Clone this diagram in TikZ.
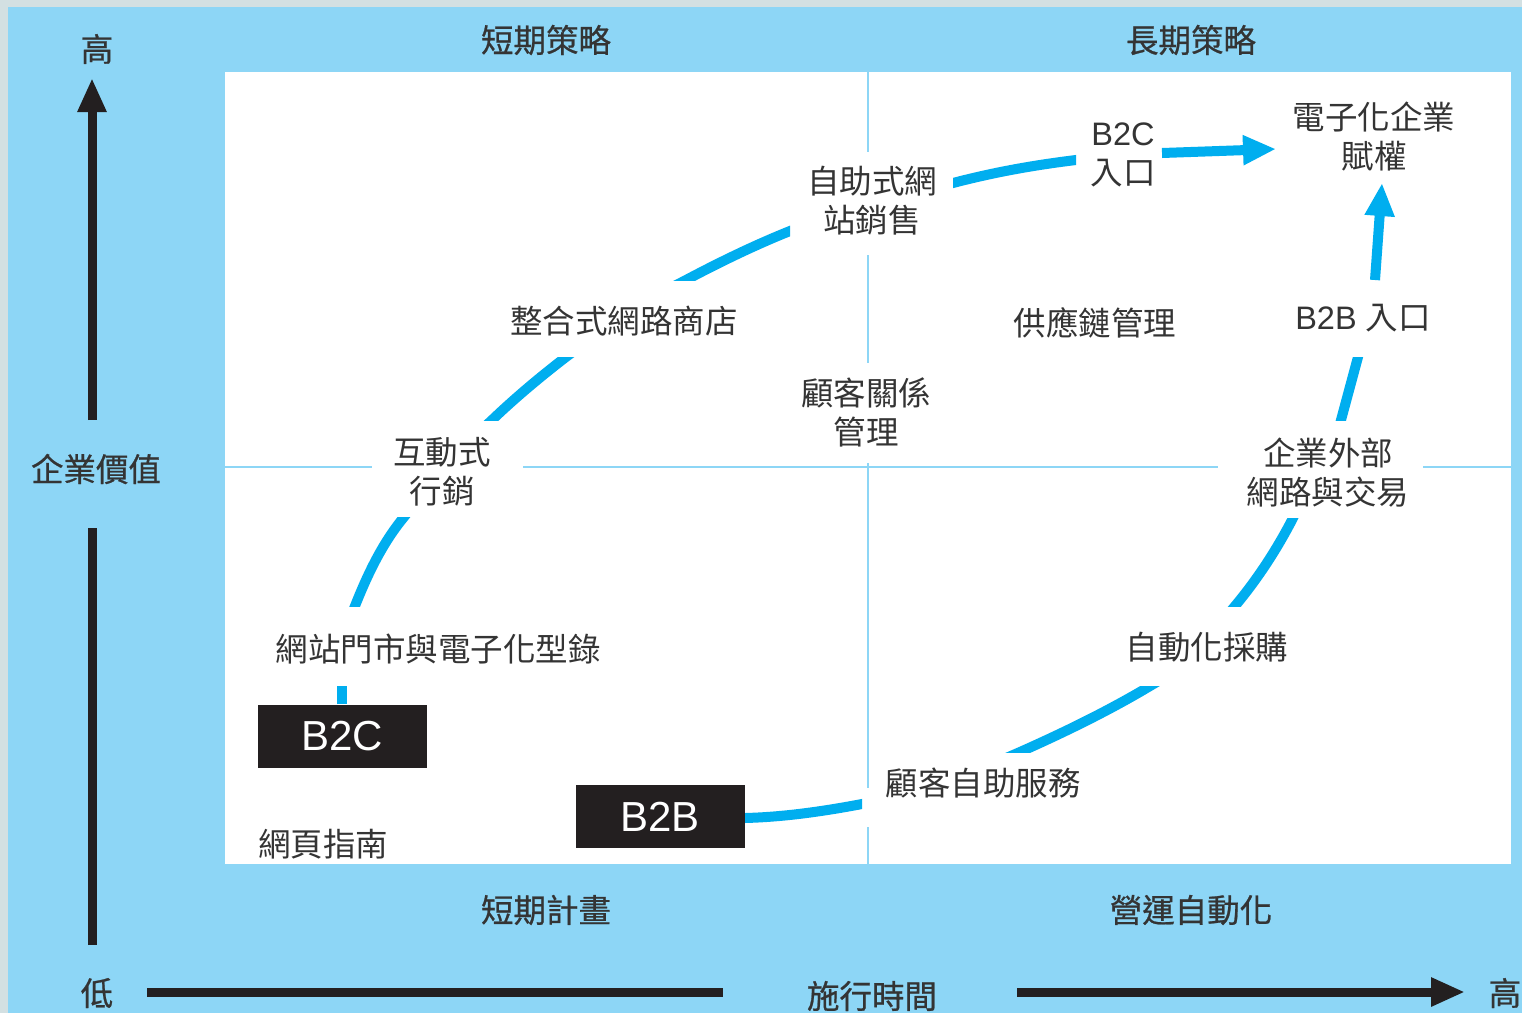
\documentclass[tikz,border=0pt]{standalone}
\usepackage{fontspec}
\setmainfont{Noto Sans CJK TC}
\newfontfamily\lat{Liberation Sans}
\newfontfamily\outerfont[FakeBold=0.7]{Noto Sans CJK TC}
\usetikzlibrary{arrows.meta}
\definecolor{bgblue}{RGB}{141,214,246}
\definecolor{frame}{RGB}{211,224,226}
\definecolor{cyanB}{RGB}{0,174,239}
\definecolor{txt}{RGB}{52,52,52}
\definecolor{axisk}{RGB}{35,31,32}
\tikzset{
  lbl/.style={font=\fontsize{32.5}{39}\selectfont, text=txt, inner sep=0pt, align=center},
  outerlbl/.style={font=\outerfont\fontsize{32.5}{39}\selectfont, text=txt, inner sep=0pt, align=center},
  blackbox/.style={fill=axisk, text=white, font=\lat\fontsize{42}{48}\selectfont, minimum width=169pt, minimum height=63pt, inner sep=0pt},
  axisline/.style={line width=9pt, draw=axisk},
  axisarrow/.style={axisline, -{Triangle[length=34pt,width=27pt]}},
  gridline/.style={line width=2.6pt, draw=bgblue},
  flow/.style={line width=10pt, draw=cyanB},
  flowarrow/.style={flow, -{Triangle[length=33pt,width=28pt]}}
}
\begin{document}
\begin{tikzpicture}[x=1pt,y=-1pt]
\useasboundingbox (0,0) rectangle (1522,1013);
% backgrounds
\fill[frame] (0,0) rectangle (1522,1013);
\fill[bgblue] (8,7) rectangle (1522,1013);
\fill[white] (225,72) rectangle (1511,864);
% grid lines
\draw[gridline] (868,60) -- (868,152);
\draw[gridline] (868,255) -- (868,363);
\draw[gridline] (868,463) -- (868,788);
\draw[gridline] (868,827) -- (868,875);
\draw[gridline] (215,467) -- (372,467);
\draw[gridline] (523,467) -- (1218,467);
\draw[gridline] (1423,467) -- (1522,467);
% outer labels
\node[outerlbl] (highv) at (97,49) {高};
\node[outerlbl] (ss) at (546,40) {短期策略};
\node[outerlbl] (ls) at (1191,40) {長期策略};
\node[outerlbl] (val) at (96,469) {企業價值};
\node[outerlbl] (low) at (97,993) {低};
\node[outerlbl] (time) at (872,996) {施行時間};
\node[outerlbl] (highh) at (1505,993) {高};
\node[outerlbl] (sp) at (546,910) {短期計畫};
\node[outerlbl] (oa) at (1191,910) {營運自動化};
% axes
\coordinate (va) at (92,945);
\coordinate (vb) at (92,528);
\coordinate (vc) at (92,420);
\coordinate (vd) at (92,78);
\coordinate (ha) at (147,992);
\coordinate (hb) at (723,992);
\coordinate (hc) at (1017,992);
\coordinate (hd) at (1465,992);
\draw[axisline] (va) -- (vb);
\draw[axisarrow] (vc) -- (vd);
\draw[axisline] (ha) -- (hb);
\draw[axisarrow] (hc) -- (hd);
% inner labels
\node[lbl] (emp) at (1374,137) {電子化企業\\賦權};
\node[lbl] (b2cent) at (1123,155) {{\lat B2C}\\入口};
\node[lbl] (sws) at (872,201) {自助式網\\站銷售};
\node[lbl] (ies) at (624,321) {整合式網路商店};
\node[lbl] (scm) at (1095,323) {供應鏈管理};
\node[lbl] (b2bent) at (1363,318) {{\lat B2B }入口};
\node[lbl] (crm) at (866,412) {顧客關係\\管理};
\node[lbl] (im) at (442,472) {互動式\\行銷};
\node[lbl] (ext) at (1328,473) {企業外部\\網路與交易};
\node[lbl] (store) at (438,649) {網站門市與電子化型錄};
\node[lbl] (guide) at (323,844) {網頁指南};
\node[lbl] (auto) at (1207,647) {自動化採購};
\node[lbl] (css) at (983,783) {顧客自助服務};
\node[blackbox] (b2c) at (342,736) {B2C};
\node[blackbox] (b2b) at (660,816.5) {B2B};
% B2C flow
\coordinate (l1) at (342,686);
\coordinate (l2a) at (355,606);
\coordinate (l2b) at (404,517);
\coordinate (l3a) at (492,420);
\coordinate (l3b) at (566,357);
\coordinate (l4a) at (686,280);
\coordinate (l4b) at (790,231);
\coordinate (l5a) at (953,183);
\coordinate (l5b) at (1076,160);
\coordinate (l6a) at (1162,153);
\coordinate (l6b) at (1276,149);
\draw[flow] (b2c.north) -- (l1);
\begin{scope}
  \clip (300,517) rectangle (460,606);
  \draw[flow] (349,621) -- (l2a) .. controls (370,568) and (385,540) .. (l2b) -- (416,502);
\end{scope}
\begin{scope}
  \clip (440,357) rectangle (620,420);
  \draw[flow] (478,433) -- (l3a) .. controls (515,398) and (540,377) .. (l3b) -- (582,345);
\end{scope}
\begin{scope}
  \clip (600,200) rectangle (790,280);
  \draw[flow] (659,294) -- (l4a) .. controls (720,262) and (755,245) .. (l4b) -- (805,225);
\end{scope}
\begin{scope}
  \clip (953,140) rectangle (1076,200);
  \draw[flow] (938,187) -- (l5a) .. controls (995,172) and (1035,165) .. (l5b) -- (1091,158);
\end{scope}
\draw[flowarrow] (l6a) -- (l6b);
% B2B flow
\coordinate (r7) at (862,804);
\coordinate (r8a) at (1020,752);
\coordinate (r8b) at (1150,686);
\coordinate (r9a) at (1235,606);
\coordinate (r9b) at (1293,518);
\coordinate (r10a) at (1341,420);
\coordinate (r10b) at (1358,357);
\coordinate (r11a) at (1375,280);
\coordinate (r11b) at (1382,183);
\begin{scope}
  \clip (745,780) rectangle (862,840);
  \draw[flow] (b2b.east |- 0,818) .. controls (785,817) and (825,811) .. (r7) -- (877,801);
\end{scope}
\begin{scope}
  \clip (980,686) rectangle (1190,752);
  \draw[flow] (997,762) -- (r8a) .. controls (1065,732) and (1110,710) .. (r8b) -- (1167,676);
\end{scope}
\begin{scope}
  \clip (1200,518) rectangle (1330,606);
  \draw[flow] (1225,618) -- (r9a) .. controls (1255,582) and (1275,553) .. (r9b) -- (1300,504);
\end{scope}
\begin{scope}
  \clip (1320,357) rectangle (1380,420);
  \draw[flow] (1337,435) -- (r10a) -- (r10b) -- (1362,342);
\end{scope}
\draw[flowarrow] (r11a) -- (r11b);
\end{tikzpicture}
\end{document}
